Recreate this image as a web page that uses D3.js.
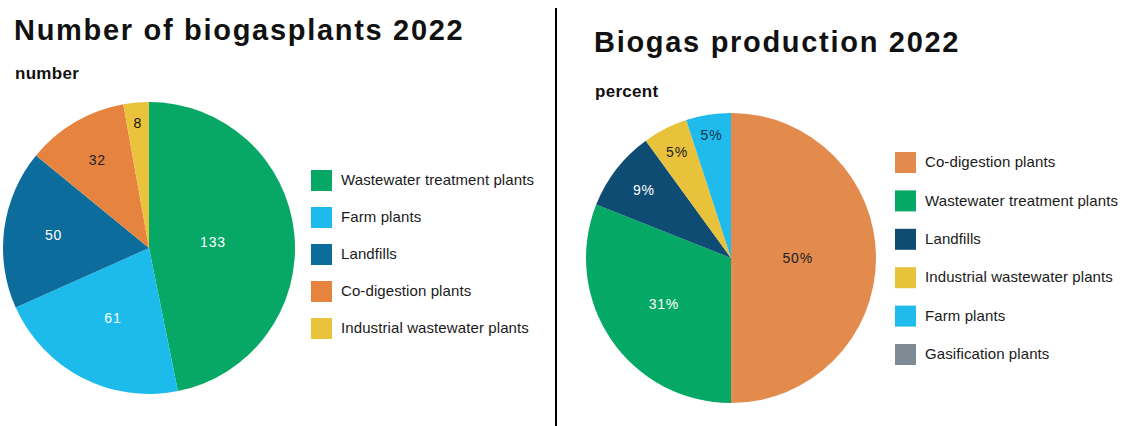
<!DOCTYPE html>
<html>
<head>
<meta charset="utf-8">
<script src="https://cdn.jsdelivr.net/npm/d3@7"></script>
<style>
  html, body { margin: 0; padding: 0; background: #fff; }
  svg { display: block; font-family: "Liberation Sans", Arial, sans-serif; }
</style>
</head>
<body>
<svg id="chart" width="1124" height="426"></svg>
<script>
// Number of biogas plants by type, 2022
const plantTypes = ["Wastewater treatment plants", "Farm plants", "Landfills", "Co-digestion plants", "Industrial wastewater plants"];
const plantCounts = [133, 61, 50, 32, 8];

// Share of biogas production by plant type, 2022 (percent)
const productionTypes = ["Co-digestion plants", "Wastewater treatment plants", "Landfills", "Industrial wastewater plants", "Farm plants", "Gasification plants"];
const productionShares = [50, 31, 9, 5, 5, 0];

// Colours per plant type
const leftColors = {
  "Wastewater treatment plants": "#07a866",
  "Farm plants": "#1cbbec",
  "Landfills": "#0c6c9c",
  "Co-digestion plants": "#e6843f",
  "Industrial wastewater plants": "#e9c33c"
};
const rightColors = {
  "Co-digestion plants": "#e38a4d",
  "Wastewater treatment plants": "#06a866",
  "Landfills": "#0e4c73",
  "Industrial wastewater plants": "#e8c23a",
  "Farm plants": "#1ebbec",
  "Gasification plants": "#7e8b95"
};
// Label placement (fraction of radius) and label colour per slice
const leftLabelRadius = [0.44, 0.54, 0.66, 0.70, 0.86];
const leftLabelColor = ["#fff", "#fff", "#fff", "#222", "#111"];
const rightLabelRadius = [0.46, 0.56, 0.76, 0.82, 0.86];
const rightLabelColor = ["#222", "#fff", "#fff", "#222", "#15334d"];

const svg = d3.select("#chart");

// Divider between the two panels
svg.append("line")
  .attr("x1", 556).attr("x2", 556).attr("y1", 8).attr("y2", 426)
  .attr("stroke", "#000").attr("stroke-width", 2);

function drawPanel(opts) {
  const g = svg.append("g");
  g.append("text")
    .attr("x", opts.titleX).attr("y", opts.titleY)
    .attr("font-size", opts.titleSize).attr("font-weight", "bold")
    .attr("letter-spacing", 1.7)
    .attr("fill", "#111").text(opts.title);
  g.append("text")
    .attr("x", opts.titleX + 1).attr("y", opts.subY)
    .attr("font-size", 17).attr("font-weight", "bold")
    .attr("letter-spacing", 0.3)
    .attr("fill", "#111").text(opts.subtitle);

  const pie = d3.pie().sort(null).value(d => d.value);
  const arcs = pie(opts.types.map((t, i) => ({ type: t, value: opts.values[i] })));
  const arc = d3.arc().innerRadius(0).outerRadius(opts.r);

  const pg = g.append("g").attr("transform", `translate(${opts.cx},${opts.cy})`);
  pg.selectAll("path").data(arcs.filter(a => a.data.value > 0)).join("path")
    .attr("d", arc)
    .attr("fill", d => opts.colors[d.data.type]);

  pg.selectAll("text").data(arcs.filter(a => a.data.value > 0)).join("text")
    .attr("transform", (d, i) => {
      const rr = opts.r * opts.labelRadius[i];
      const c = d3.arc().innerRadius(rr).outerRadius(rr).centroid(d);
      return `translate(${c[0]},${c[1]})`;
    })
    .attr("text-anchor", "middle").attr("dy", "0.35em")
    .attr("font-size", 14).attr("letter-spacing", 0.8)
    .attr("fill", (d, i) => opts.labelColor[i])
    .text(d => opts.fmt(d.data.value));

  // Legend
  const lg = g.append("g");
  const row = lg.selectAll("g").data(opts.legend).join("g")
    .attr("transform", (d, i) => `translate(${opts.legX},${opts.legY + i * opts.legStep})`);
  row.append("rect")
    .attr("x", 0).attr("y", -10).attr("width", 21).attr("height", 21)
    .attr("fill", d => opts.colors[d]);
  row.append("text")
    .attr("x", 30).attr("y", 0).attr("dy", "0.35em")
    .attr("font-size", 15).attr("letter-spacing", 0.1).attr("fill", "#1a1a1a")
    .text(d => d);
}

drawPanel({
  title: "Number of biogasplants 2022", subtitle: "number",
  titleX: 14, titleY: 40, titleSize: 29, subY: 79,
  types: plantTypes, values: plantCounts, colors: leftColors,
  cx: 149, cy: 248, r: 146,
  labelRadius: leftLabelRadius, labelColor: leftLabelColor,
  fmt: v => String(v),
  legend: plantTypes, legX: 311, legY: 180, legStep: 37
});

drawPanel({
  title: "Biogas production 2022", subtitle: "percent",
  titleX: 594, titleY: 52, titleSize: 29, subY: 97,
  types: productionTypes, values: productionShares, colors: rightColors,
  cx: 731, cy: 258, r: 145,
  labelRadius: rightLabelRadius, labelColor: rightLabelColor,
  fmt: v => v + "%",
  legend: productionTypes, legX: 895, legY: 162, legStep: 38.4
});
</script>
</body>
</html>
